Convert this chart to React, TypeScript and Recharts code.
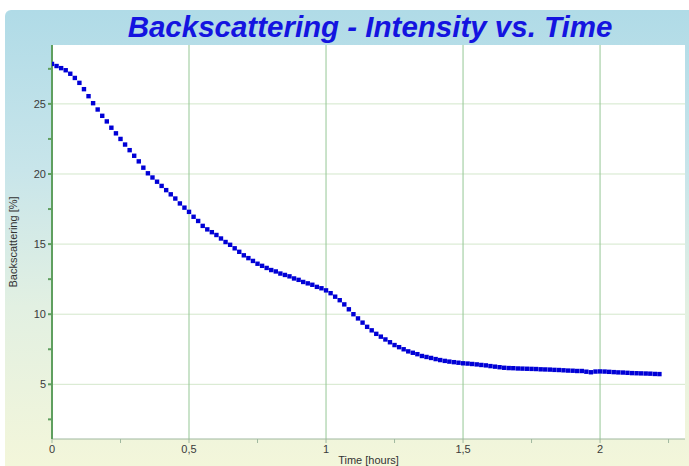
import { LineChart, Line, XAxis, YAxis, CartesianGrid, Label } from 'recharts';

// sample time in minutes since start
const minutes = [
  0, 1, 2, 3, 4, 5, 6, 7, 8, 9, 10, 11, 12, 13, 14, 15, 16, 17, 18, 19,
  20, 21, 22, 23, 24, 25, 26, 27, 28, 29, 30, 31, 32, 33, 34, 35, 36, 37, 38, 39,
  40, 41, 42, 43, 44, 45, 46, 47, 48, 49, 50, 51, 52, 53, 54, 55, 56, 57, 58, 59,
  60, 61, 62, 63, 64, 65, 66, 67, 68, 69, 70, 71, 72, 73, 74, 75, 76, 77, 78, 79,
  80, 81, 82, 83, 84, 85, 86, 87, 88, 89, 90, 91, 92, 93, 94, 95, 96, 97, 98, 99,
  100, 101, 102, 103, 104, 105, 106, 107, 108, 109, 110, 111, 112, 113, 114, 115, 116, 117, 118, 119,
  120, 121, 122, 123, 124, 125, 126, 127, 128, 129, 130, 131, 132, 133,
];

// backscattering [%]
const backscatter = [
  27.85, 27.7, 27.55, 27.4, 27.15, 26.85, 26.5, 26.05, 25.55, 25.05,
  24.6, 24.15, 23.75, 23.3, 22.9, 22.5, 22.1, 21.7, 21.3, 20.9,
  20.45, 20.05, 19.75, 19.45, 19.15, 18.85, 18.55, 18.25, 17.9, 17.6,
  17.3, 16.95, 16.65, 16.3, 16.05, 15.85, 15.65, 15.4, 15.15, 14.95,
  14.7, 14.45, 14.2, 14.0, 13.8, 13.6, 13.45, 13.3, 13.15, 13.05,
  12.9, 12.8, 12.7, 12.55, 12.45, 12.3, 12.2, 12.1, 11.95, 11.85,
  11.7, 11.5, 11.25, 11.0, 10.7, 10.35, 10.0, 9.7, 9.4, 9.1,
  8.85, 8.6, 8.4, 8.2, 8.0, 7.8, 7.65, 7.5, 7.35, 7.25,
  7.15, 7.02, 6.95, 6.88, 6.8, 6.73, 6.67, 6.62, 6.58, 6.54,
  6.5, 6.48, 6.45, 6.42, 6.38, 6.35, 6.3, 6.26, 6.22, 6.18,
  6.16, 6.15, 6.13, 6.12, 6.11, 6.1, 6.09, 6.07, 6.06, 6.05,
  6.03, 6.02, 6.0, 5.98, 5.97, 5.95, 5.95, 5.9, 5.86, 5.91,
  5.92, 5.91, 5.89, 5.87, 5.85, 5.84, 5.82, 5.8, 5.79, 5.78,
  5.77, 5.76, 5.74, 5.73,
];

const xTicks = [0, 0.25, 0.5, 0.75, 1, 1.25, 1.5, 1.75, 2, 2.25];
const xGrid = [0.5, 1, 1.5, 2];
const yTicks = [2.5, 5, 7.5, 10, 12.5, 15, 17.5, 20, 22.5, 25, 27.5];
const yGrid = [5, 10, 15, 20, 25];

const data = minutes.map((m, i) => ({ t: m / 60, value: backscatter[i] }));

const fmtX = (v: number) => (xGrid.includes(v) || v === 0 ? String(v).replace('.', ',') : '');
const fmtY = (v: number) => (yGrid.includes(v) ? String(v) : '');

const Square = (props: any) => {
  const { cx, cy, index } = props;
  if (cx == null || cy == null) return <g key={index} />;
  return <rect key={index} x={cx - 2.2} y={cy - 2.2} width={4.4} height={4.4} fill="#0000d6" />;
};

const tickStyle = { fontSize: 11, fill: '#3a3a3a' };

export default function App() {
  return (
    <div
      style={{
        position: 'absolute',
        left: 0,
        top: 0,
        width: 689,
        height: 466,
        background: '#fff',
        overflow: 'hidden',
        fontFamily: '"Liberation Sans", Arial, sans-serif',
      }}
    >
      <div
        style={{
          position: 'absolute',
          left: 5,
          top: 10,
          right: 0,
          bottom: 0,
          borderTopLeftRadius: 6,
          background: 'linear-gradient(180deg, #b0dbe7 0%, #c8e5ea 35%, #e2f0e2 65%, #f3f6da 100%)',
        }}
      />
      <div
        style={{
          position: 'absolute',
          left: 0,
          width: 740,
          top: 11,
          lineHeight: '32px',
          textAlign: 'center',
          fontSize: 29.5,
          fontWeight: 'bold',
          fontStyle: 'italic',
          color: '#1414e0',
        }}
      >
        Backscattering - Intensity vs. Time
      </div>
      <div style={{ position: 'absolute', left: 0, top: 0 }}>
        <LineChart width={689} height={466} data={data} margin={{ top: 45, right: 4, bottom: 0, left: 0 }}>
          <CartesianGrid fill="#ffffff" stroke="#d3e7cb" vertical={false} horizontalValues={yGrid} />
          <CartesianGrid stroke="#95c795" horizontal={false} verticalValues={xGrid} />
          <XAxis
            dataKey="t"
            type="number"
            domain={[0, 2.31]}
            ticks={xTicks}
            tickFormatter={fmtX}
            tick={tickStyle}
            tickSize={4}
            height={27}
            stroke="#9fb89f"
            interval={0}
            allowDataOverflow
          >
            <Label value="Time [hours]" position="insideBottom" offset={2} style={{ fontSize: 11, fill: '#333' }} />
          </XAxis>
          <YAxis
            type="number"
            domain={[1.1, 29.2]}
            ticks={yTicks}
            tickFormatter={fmtY}
            tick={tickStyle}
            tickSize={4}
            width={52}
            stroke="#5f9f5f"
            strokeWidth={2}
            interval={0}
            allowDataOverflow
          >
            <Label
              value="Backscattering [%]"
              angle={-90}
              position="insideLeft"
              offset={13}
              style={{ fontSize: 11, fill: '#333', textAnchor: 'middle' }}
            />
          </YAxis>
          <Line
            dataKey="value"
            stroke="none"
            dot={Square}
            activeDot={false}
            isAnimationActive={false}
          />
        </LineChart>
      </div>
    </div>
  );
}
